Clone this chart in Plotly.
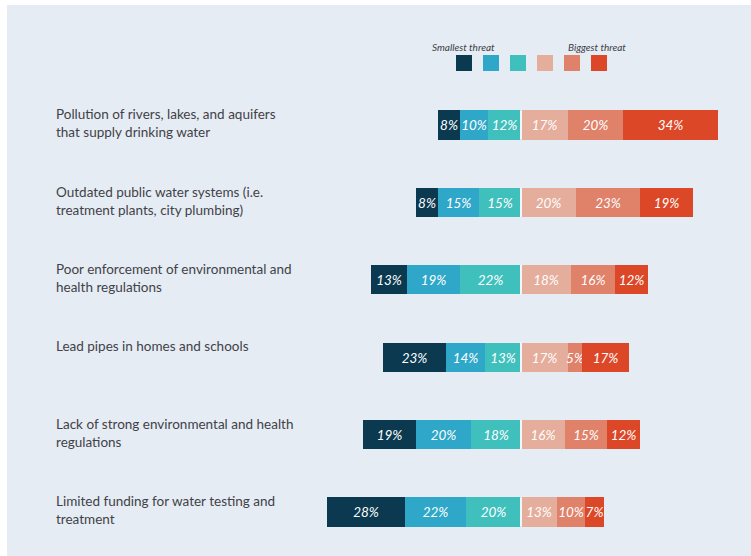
import plotly.graph_objects as go

# Survey: how big a threat is each issue to drinking water (share of respondents)
issues = [
    "Pollution of rivers, lakes, and aquifers<br>that supply drinking water",
    "Outdated public water systems (i.e.<br>treatment plants, city plumbing)",
    "Poor enforcement of environmental and<br>health regulations",
    "Lead pipes in homes and schools",
    "Lack of strong environmental and health<br>regulations",
    "Limited funding for water testing and<br>treatment",
]

# Six-point scale, from smallest threat (1) to biggest threat (6)
level1 = [8, 8, 13, 23, 19, 28]
level2 = [10, 15, 19, 14, 20, 22]
level3 = [12, 15, 22, 13, 18, 20]
level4 = [17, 20, 18, 17, 16, 13]
level5 = [20, 23, 16, 5, 15, 10]
level6 = [34, 19, 12, 17, 12, 7]

legend_low = "Smallest threat"
legend_high = "Biggest threat"

colors = ["#0b3a50", "#2ea7c8", "#3fc0bc", "#e5ad9b", "#e0816a", "#dc4827"]
BG = "#e6ecf4"

W, H = 751, 556
rows = list(range(len(issues)))

fig = go.Figure()

# Lower half of the scale stacks leftwards from the centre line,
# upper half stacks rightwards.
series = [
    (level3, colors[2], -1),
    (level2, colors[1], -1),
    (level1, colors[0], -1),
    (level4, colors[3], 1),
    (level5, colors[4], 1),
    (level6, colors[5], 1),
]
for vals, col, sign in series:
    fig.add_trace(go.Bar(
        orientation="h",
        y=rows,
        x=[sign * v for v in vals],
        width=0.375,
        marker=dict(color=col, line=dict(width=0)),
        text=[f"{v}%" for v in vals],
        textposition="inside",
        insidetextanchor="middle",
        textangle=0,
        textfont=dict(family="Lato", size=13.5, color="white", style="italic"),
        hoverinfo="skip",
        showlegend=False,
    ))

# thin gap at the centre of every bar
shapes = []
for r in rows:
    shapes.append(dict(type="line", xref="x", yref="y", x0=0, x1=0,
                       y0=r - 0.19, y1=r + 0.19,
                       line=dict(color="#f3f6fa", width=2), layer="above"))

# panel background
shapes.insert(0, dict(type="rect", xref="paper", yref="paper",
                      x0=7 / W, x1=1, y0=0, y1=1 - 5 / H,
                      fillcolor=BG, line=dict(width=0), layer="below"))

# legend swatches
sw = 16
for i, col in enumerate(colors):
    cx = 464 + 27 * i
    cy = 63
    shapes.append(dict(type="rect", xref="paper", yref="paper",
                       x0=(cx - sw / 2) / W, x1=(cx + sw / 2) / W,
                       y0=1 - (cy + sw / 2) / H, y1=1 - (cy - sw / 2) / H,
                       fillcolor=col, line=dict(width=0)))

annotations = []
for r, name in zip(rows, issues):
    annotations.append(dict(
        xref="paper", yref="y", x=54 / W, y=r - 0.27,
        xanchor="left", yanchor="top", align="left",
        text=name, showarrow=False,
        font=dict(family="Lato", size=13.5, color="#3f4247"),
    ))
annotations.append(dict(xref="paper", yref="paper", x=463 / W, y=1 - 47 / H,
                        text=legend_low, showarrow=False, xanchor="center", yanchor="middle",
                        font=dict(family="Lato", size=10, color="#3d4045", style="italic")))
annotations.append(dict(xref="paper", yref="paper", x=597 / W, y=1 - 47 / H,
                        text=legend_high, showarrow=False, xanchor="center", yanchor="middle",
                        font=dict(family="Lato", size=10, color="#3d4045", style="italic")))

px_per = 2.77
center = 521
row0, step = 125, 77.4

fig.update_layout(
    width=W, height=H,
    margin=dict(l=0, r=0, t=0, b=0),
    paper_bgcolor="white",
    plot_bgcolor="rgba(0,0,0,0)",
    barmode="relative",
    bargap=0,
    uniformtext=dict(minsize=13, mode="show"),
    shapes=shapes,
    annotations=annotations,
    xaxis=dict(range=[-center / px_per, (W - center) / px_per],
               visible=False, fixedrange=True),
    yaxis=dict(range=[(H - row0) / step, -row0 / step],
               visible=False, fixedrange=True),
)

fig.write_html("out.html")
